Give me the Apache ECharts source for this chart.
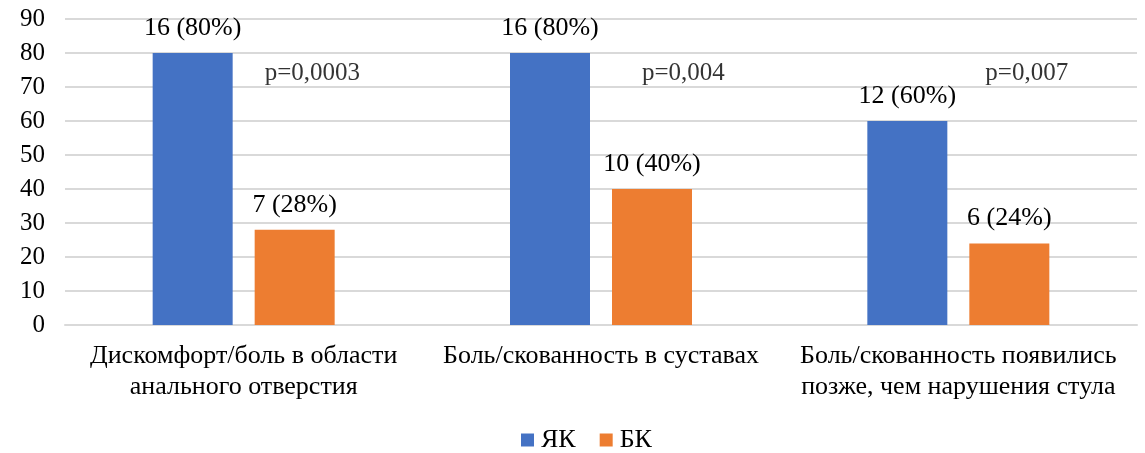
<!DOCTYPE html>
<html>
<head>
<meta charset="utf-8">
<style>
  html, body { margin: 0; padding: 0; background: #ffffff; }
  #chart { width: 1145px; height: 453px; }
</style>
<script src="https://cdn.jsdelivr.net/npm/echarts@6/dist/echarts.min.js"></script>
</head>
<body>
<div id="chart"></div>
<script>
// Categories (axis labels, wrapped into lines)
const categories = [
  'Дискомфорт/боль в области\nанального отверстия',
  'Боль/скованность в суставах',
  'Боль/скованность появились\nпозже, чем нарушения стула'
];
// Percent values and patient counts per group
const ykPercent = [80, 80, 60];
const ykCount = [16, 16, 12];
const bkPercent = [28, 40, 24];
const bkCount = [7, 10, 6];
// Significance labels and the height at which they sit
const pValues = ['p=0,0003', 'p=0,004', 'p=0,007'];
const pLevel = [74, 74, 74];
// Axis ticks
const yMin = 0, yMax = 90, yStep = 10;

const font = "'Liberation Serif', 'Times New Roman', serif";
const textSize = 26;
const pShift = [21, 41, 27];

const chart = echarts.init(document.getElementById('chart'), null, { renderer: 'canvas' });

function labelFor(counts, perc) {
  return function (p) { return counts[p.dataIndex] + ' (' + perc[p.dataIndex] + '%)'; };
}

chart.setOption({
  animation: false,
  textStyle: { fontFamily: font },
  grid: { left: 65, right: 8, top: 19, bottom: 128, containLabel: false },
  legend: {
    data: ['ЯК', 'БК'],
    top: 427,
    left: 521,
    padding: 0,
    itemWidth: 13,
    itemHeight: 13,
    itemGap: 24,
    icon: 'rect',
    textStyle: { fontFamily: font, fontSize: textSize, color: '#000', padding: [0, 0, 0, 2] }
  },
  xAxis: {
    type: 'category',
    data: categories,
    axisLine: { lineStyle: { color: '#d9d9d9', width: 2 } },
    axisTick: { show: false },
    axisLabel: {
      interval: 0,
      margin: 16,
      fontFamily: font,
      fontSize: textSize,
      lineHeight: 31,
      color: '#000'
    }
  },
  yAxis: {
    type: 'value',
    min: yMin,
    max: yMax,
    interval: yStep,
    axisLine: { show: false },
    axisTick: { show: false },
    splitLine: { lineStyle: { color: '#d9d9d9', width: 2 } },
    axisLabel: { margin: 20, fontFamily: font, fontSize: 25, color: '#000' }
  },
  series: [
    {
      name: 'ЯК',
      type: 'bar',
      data: ykPercent,
      barWidth: 80,
      barGap: '27.5%',
      itemStyle: { color: '#4472C4' },
      label: {
        show: true,
        position: 'top',
        distance: 12,
        fontFamily: font,
        fontSize: textSize,
        color: '#000',
        formatter: labelFor(ykCount, ykPercent)
      }
    },
    {
      name: 'БК',
      type: 'bar',
      data: bkPercent,
      barWidth: 80,
      barGap: '27.5%',
      itemStyle: { color: '#ED7D31' },
      label: {
        show: true,
        position: 'top',
        distance: 12,
        fontFamily: font,
        fontSize: textSize,
        color: '#000',
        formatter: labelFor(bkCount, bkPercent)
      }
    },
    {
      name: 'p',
      type: 'scatter',
      symbolSize: 0,
      silent: true,
      data: pLevel.map(function (v, i) { return [i, v]; }),
      label: {
        show: true,
        position: 'inside',
        align: 'left',
        verticalAlign: 'middle',
        fontFamily: font,
        fontSize: 25,
        color: '#000',
        formatter: function (p) { return pValues[p.dataIndex]; }
      },
      labelLayout: function (params) {
        return { dx: pShift[params.dataIndex] };
      }
    }
  ]
});
</script>
</body>
</html>
